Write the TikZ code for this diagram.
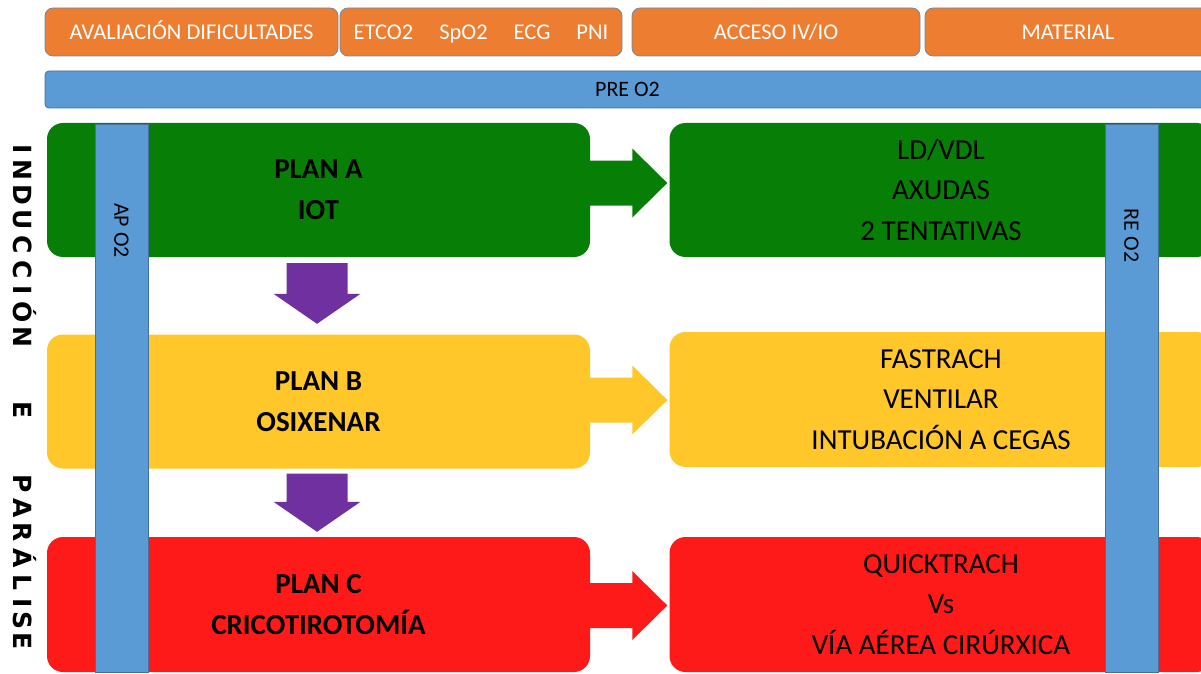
\documentclass[tikz,border=0pt]{standalone}
\usepackage{fontspec}
\setmainfont{Carlito}
\newfontfamily\sidefont{DejaVu Sans}
\usetikzlibrary{calc}

\definecolor{topOrange}{HTML}{ED7D31}
\definecolor{barBlue}{HTML}{5B9BD5}
\definecolor{barEdge}{HTML}{41719C}
\definecolor{planGreen}{HTML}{077F07}
\definecolor{planYellow}{HTML}{FFC729}
\definecolor{planRed}{HTML}{FF1A1A}
\definecolor{downPurple}{HTML}{7030A0}

\begin{document}
\begin{tikzpicture}[x=1pt, y=-1pt,
    topbox/.style={draw=barEdge!80, fill=topOrange, line width=0.8pt, rounded corners=8pt,
        minimum height=48pt, inner sep=0pt, text height=14.5pt, text depth=0pt, text=white,
        font=\fontsize{22.5}{26}\selectfont},
    bar/.style={draw=barEdge, fill=barBlue, line width=0.8pt, inner sep=0pt},
    bartext/.style={font=\fontsize{22}{24}\selectfont},
    planbox/.style={fill=#1, rounded corners=16pt, minimum width=543pt, minimum height=134pt,
        inner sep=0pt, align=center},
    plantext/.style={font=\bfseries\fontsize{29}{41}\selectfont},
    dotext/.style={font=\fontsize{29}{40.5}\selectfont},
    sideletter/.style={rotate=-90, anchor=base, font=\sidefont\bfseries\fontsize{25}{25}\selectfont}
]
    \useasboundingbox (0,0) rectangle (1201,674);
    \clip (0,0) rectangle (1201,674);

    % Top row
    \node[topbox, minimum width=293pt] (eval) at (191.5,32) {AVALIACIÓN DIFICULTADES};
    \node[topbox, minimum width=282pt] (monit) at (481,32) {ETCO2\hspace{26pt}SpO2\hspace{26pt}ECG\hspace{26pt}PNI};
    \node[topbox, minimum width=288pt] (acceso) at (776,32) {ACCESO IV/IO};
    \node[topbox, minimum width=286pt] (material) at (1068,32) {MATERIAL};

    % Pre-oxygenation bar
    \node[bar, bartext, rounded corners=4pt, minimum width=1165pt, minimum height=37pt] (preo2) at (627.5,89.5) {PRE O2};

    % Plans
    \node[planbox=planGreen, plantext] (planA) at (318.5,190) {PLAN A\\IOT};
    \node[planbox=planYellow, plantext] (planB) at (318.5,401.5) {PLAN B\\OSIXENAR};
    \node[planbox=planRed, plantext, minimum height=135pt] (planC) at (318.5,604.5) {PLAN C\\CRICOTIROTOMÍA};

    % Actions
    \node[planbox=planGreen, dotext] (doA) at (941,190) {LD/VDL\\AXUDAS\\2 TENTATIVAS};
    \node[planbox=planYellow, dotext, minimum height=135pt] (doB) at (941,399.5) {FASTRACH\\VENTILAR\\INTUBACIÓN A CEGAS};
    \node[planbox=planRed, dotext, minimum height=135pt] (doC) at (941,604.5) {QUICKTRACH\\Vs\\VÍA AÉREA CIRÚRXICA};

    % Side arrows
    \foreach \a/\b/\c/\dy in {planA/doA/planGreen/-7, planB/doB/planYellow/0.5, planC/doC/planRed/1}{
        \coordinate (tip) at ($(\b.west)+(-2,\dy)$);
        \coordinate (base) at (\a.east |- tip);
        \fill[\c] ($(base)+(-1,-22.5)$) -- ($(tip)+(-35,-22.5)$) -- ($(tip)+(-35,-34.5)$) -- (tip)
            -- ($(tip)+(-35,34.5)$) -- ($(tip)+(-35,22.5)$) -- ($(base)+(-1,22.5)$) -- cycle;
    }

    % Down arrows
    \foreach \a/\b/\t/\d in {planA/planB/6/10.5, planB/planC/5/5}{
        \coordinate (top) at ($(\a.south)+(-1.5,\t)$);
        \coordinate (bot) at ($(\b.north)+(-1.5,-\d)$);
        \fill[downPurple] ($(top)+(-30.5,0)$) -- ($(top)+(30.5,0)$) -- ($(bot)+(30.5,-30)$)
            -- ($(bot)+(43.5,-30)$) -- (bot) -- ($(bot)+(-43.5,-30)$) -- ($(bot)+(-30.5,-30)$) -- cycle;
    }

    % Oxygenation bars
    \node[bar, minimum width=53pt, minimum height=548pt] (apo2) at (121.5,398) {};
    \node[bartext, rotate=-90] (apo2txt) at ($(apo2.north)+(0,107)$) {AP O2};
    \node[bar, minimum width=53pt, minimum height=548pt] (reo2) at (1131.5,398) {};
    \node[bartext, rotate=-90] (reo2txt) at ($(reo2.north)+(0,112)$) {RE O2};

    % Side title
    \foreach \ch/\yy [count=\i] in {I/149, N/170, D/195, U/220, C/245, C/270, I/290, Ó/312, N/337,
        E/410, P/484, A/508, R/532, Á/558, L/582, I/603, S/620, E/641}
        \node[sideletter] (side\i) at (13,\yy) {\ch};
\end{tikzpicture}
\end{document}
